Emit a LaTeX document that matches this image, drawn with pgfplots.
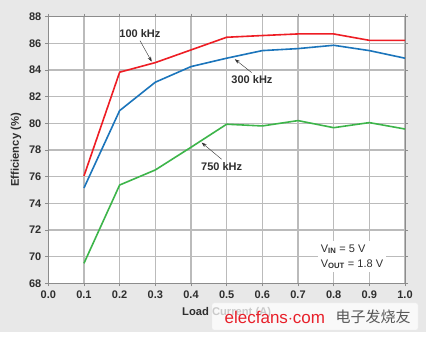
\documentclass[border=0pt]{standalone}
\usepackage{fontspec}
\setmainfont{Liberation Sans}
\newfontfamily\cjk{Noto Sans CJK SC}
\usepackage{pgfplots}
\pgfplotsset{compat=1.18}
\usetikzlibrary{arrows.meta}
\definecolor{bggray}{HTML}{E8E8E8}
\definecolor{gridgray}{HTML}{BBBBBB}
\definecolor{txt}{HTML}{2E2E2E}
\definecolor{cred}{HTML}{EE1D24}
\definecolor{cblue}{HTML}{1B75BB}
\definecolor{cgreen}{HTML}{3DB54A}
\definecolor{wmred}{HTML}{E8202A}
\begin{document}
\begin{tikzpicture}[x=1pt,y=1pt]
\fill[white] (-48.3,-53.7) rectangle (377.7,283.3);
\fill[bggray] (-48.3,-48.7) rectangle (377.7,283.3);
\begin{axis}[
  at={(0,0)}, anchor=south west,
  scale only axis, width=356.7pt, height=266.7pt,
  xmin=0, xmax=1, ymin=68, ymax=88,
  xtick={0,0.1,...,1.0}, ytick={68,70,...,88},
  grid=major,
  major grid style={gridgray, line width=1.2pt},
  axis line style={gray!90, line width=0.8pt},
  tick style={gray!90, line width=0.6pt},
  tick align=outside, major tick length=3pt,
  axis background/.style={fill=white},
  /pgf/number format/assume math mode=true,
  xticklabel style={/pgf/number format/fixed, /pgf/number format/fixed zerofill, /pgf/number format/precision=1, yshift=-1pt},
  yticklabel style={/pgf/number format/fixed, xshift=-0.5pt},
  ticklabel style={font=\fontsize{11}{13}\selectfont\bfseries, text=txt},
  xlabel={Load Current (A)}, ylabel={Efficiency (\%)},
  label style={font=\fontsize{11.2}{13}\selectfont\bfseries, text=txt},
  xlabel style={at={(axis description cs:0.5,0)}, anchor=center, yshift=-29.4pt},
  ylabel style={at={(axis description cs:0,0.5)}, anchor=center, yshift=32.3pt},
  clip=false,
]
\addplot[cred, line width=1.6pt] coordinates {
 (0.1,76.05) (0.2,83.83) (0.3,84.55) (0.4,85.5) (0.5,86.45) (0.6,86.58) (0.7,86.7) (0.8,86.7) (0.9,86.22) (1.0,86.22)};
\addplot[cblue, line width=1.6pt] coordinates {
 (0.1,75.15) (0.2,80.95) (0.3,83.08) (0.4,84.25) (0.5,84.88) (0.6,85.45) (0.7,85.6) (0.8,85.85) (0.9,85.45) (1.0,84.88)};
\addplot[cgreen, line width=1.6pt] coordinates {
 (0.1,69.5) (0.2,75.37) (0.3,76.5) (0.4,78.2) (0.5,79.93) (0.6,79.8) (0.7,80.2) (0.8,79.67) (0.9,80.05) (1.0,79.57)};
\node[font=\fontsize{11}{13}\selectfont\bfseries, text=txt] at (axis cs:0.257,86.75) {100 kHz};
\draw[-{Stealth[length=5pt,width=3.5pt]}, thin, txt] (axis cs:0.257,86.2) -- (axis cs:0.29,84.62);
\node[font=\fontsize{11}{13}\selectfont\bfseries, text=txt] at (axis cs:0.571,83.25) {300 kHz};
\draw[-{Stealth[length=5pt,width=3.5pt]}, thin, txt] (axis cs:0.57,83.8) -- (axis cs:0.523,84.8);
\node[font=\fontsize{11}{13}\selectfont\bfseries, text=txt] at (axis cs:0.486,76.75) {750 kHz};
\draw[-{Stealth[length=5pt,width=3.5pt]}, thin, txt] (axis cs:0.486,77.3) -- (axis cs:0.43,78.55);
\node[fill=white, anchor=west, align=left, inner sep=3pt, font=\fontsize{11}{15}\selectfont, text=txt] at (axis cs:0.755,70.0)
  {V\textsubscript{\bfseries IN} = 5 V\\V\textsubscript{\bfseries OUT} = 1.8 V};
\end{axis}
\fill[white, opacity=0.75, rounded corners=2pt] (163.7,-19.7) rectangle (369.7,-46.7);
\draw[white!85!gray, rounded corners=2pt] (163.7,-19.7) rectangle (369.7,-46.7);
\node[text=wmred, font=\fontsize{17}{18}\selectfont] at (226.5,-33.7) {elecfans$\cdot$com};
\node[text=txt!80, font=\cjk\fontsize{15}{16}\selectfont] at (324.7,-33.2) {电子发烧友};
\end{tikzpicture}
\end{document}
